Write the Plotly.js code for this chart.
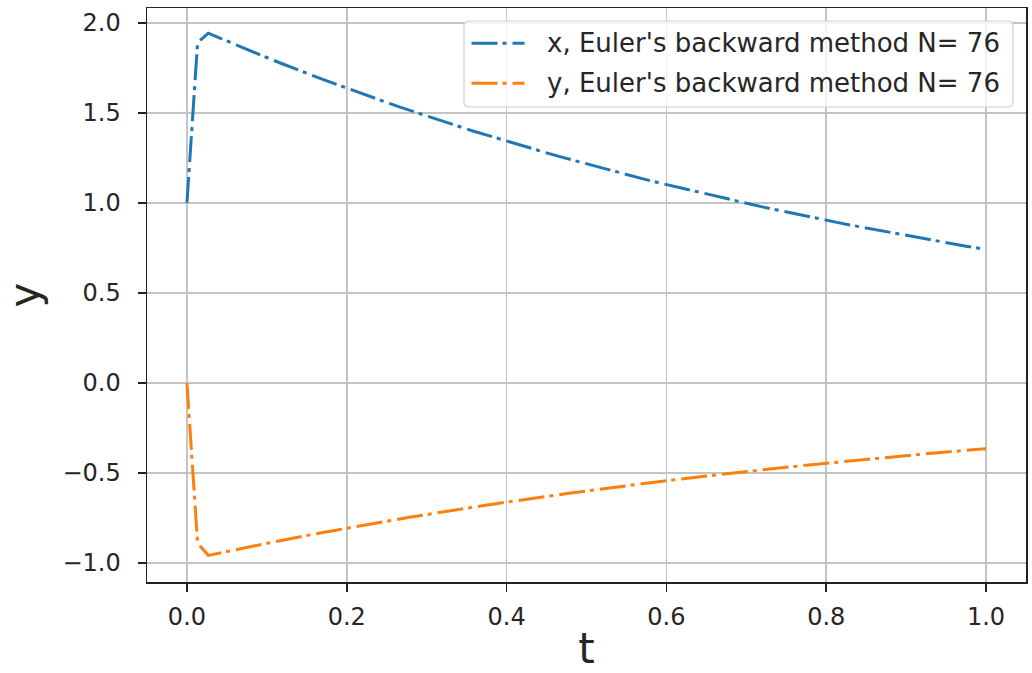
<!DOCTYPE html>
<html>
<head>
<meta charset="utf-8">
<script src="https://cdn.plot.ly/plotly-3.0.1.min.js"></script>
<style>html,body{margin:0;padding:0;background:#fff;}#chart{width:1032px;height:673px;}</style>
</head>
<body>
<div id="chart"></div>
<script>
var t = [0, 0.0133, 0.0267, 0.04, 0.0533, 0.0667, 0.08, 0.0933, 0.1067, 0.12, 0.1333, 0.1467, 0.16, 0.1733, 0.1867,
  0.2, 0.2133, 0.2267, 0.24, 0.2533, 0.2667, 0.28, 0.2933, 0.3067, 0.32, 0.3333, 0.3467, 0.36, 0.3733, 0.3867,
  0.4, 0.4133, 0.4267, 0.44, 0.4533, 0.4667, 0.48, 0.4933, 0.5067, 0.52, 0.5333, 0.5467, 0.56, 0.5733, 0.5867,
  0.6, 0.6133, 0.6267, 0.64, 0.6533, 0.6667, 0.68, 0.6933, 0.7067, 0.72, 0.7333, 0.7467, 0.76, 0.7733, 0.7867,
  0.8, 0.8133, 0.8267, 0.84, 0.8533, 0.8667, 0.88, 0.8933, 0.9067, 0.92, 0.9333, 0.9467, 0.96, 0.9733, 0.9867,
  1.0];
var xVals = [1.0, 1.89, 1.943, 1.918, 1.892, 1.868, 1.843, 1.819, 1.795, 1.772, 1.748, 1.725, 1.703, 1.681, 1.659,
  1.637, 1.615, 1.594, 1.573, 1.553, 1.532, 1.512, 1.492, 1.473, 1.454, 1.434, 1.416, 1.397, 1.379, 1.361,
  1.343, 1.325, 1.308, 1.291, 1.274, 1.257, 1.241, 1.224, 1.208, 1.192, 1.177, 1.161, 1.146, 1.131, 1.116,
  1.102, 1.087, 1.073, 1.059, 1.045, 1.031, 1.018, 1.005, 0.991, 0.978, 0.966, 0.953, 0.940, 0.928, 0.916,
  0.904, 0.892, 0.880, 0.869, 0.857, 0.846, 0.835, 0.824, 0.813, 0.803, 0.792, 0.782, 0.771, 0.761, 0.751,
  0.742];
var yVals = [0, -0.89, -0.958, -0.945, -0.933, -0.921, -0.909, -0.897, -0.885, -0.873, -0.862, -0.851, -0.839, -0.828, -0.818,
  -0.807, -0.796, -0.786, -0.776, -0.765, -0.755, -0.745, -0.736, -0.726, -0.717, -0.707, -0.698, -0.689, -0.680, -0.671,
  -0.662, -0.653, -0.645, -0.636, -0.628, -0.620, -0.612, -0.604, -0.596, -0.588, -0.580, -0.573, -0.565, -0.558, -0.550,
  -0.543, -0.536, -0.529, -0.522, -0.515, -0.508, -0.502, -0.495, -0.489, -0.482, -0.476, -0.470, -0.464, -0.458, -0.451,
  -0.446, -0.440, -0.434, -0.428, -0.423, -0.417, -0.412, -0.406, -0.401, -0.396, -0.390, -0.385, -0.380, -0.375, -0.370,
  -0.366];
var seriesNames = ["x, Euler's backward method N= 76", "y, Euler's backward method N= 76"];
var seriesColors = ["#1f77b4", "#ff7f0e"];

var dashStyle = "26px,5px,4px,6px";
var traces = [
  {x: t, y: xVals, name: seriesNames[0], type: 'scatter', mode: 'lines', showlegend: false,
   line: {color: seriesColors[0], width: 3, dash: dashStyle}},
  {x: t, y: yVals, name: seriesNames[1], type: 'scatter', mode: 'lines', showlegend: false,
   line: {color: seriesColors[1], width: 3, dash: dashStyle}}
];

// plot area in pixels (for placing the legend box in paper units)
var PL = 147, PR = 1026, PT = 8, PB = 582;
function px(x) { return (x - PL) / (PR - PL); }
function py(y) { return (PB - y) / (PB - PT); }
function pt(x, y) { return px(x).toFixed(5) + ',' + py(y).toFixed(5); }

// legend box (rounded, semi-transparent like matplotlib)
var bx0 = 464, bx1 = 1013, by0 = 21, by1 = 107, rr = 5;
var boxPath = 'M' + pt(bx0 + rr, by0) + ' L' + pt(bx1 - rr, by0) + ' Q' + pt(bx1, by0) + ' ' + pt(bx1, by0 + rr) +
  ' L' + pt(bx1, by1 - rr) + ' Q' + pt(bx1, by1) + ' ' + pt(bx1 - rr, by1) +
  ' L' + pt(bx0 + rr, by1) + ' Q' + pt(bx0, by1) + ' ' + pt(bx0, by1 - rr) +
  ' L' + pt(bx0, by0 + rr) + ' Q' + pt(bx0, by0) + ' ' + pt(bx0 + rr, by0) + ' Z';
var rowY = [43.3, 83.3];
var shapes = [{type: 'path', xref: 'paper', yref: 'paper', path: boxPath, layer: 'above',
  fillcolor: 'rgba(255,255,255,0.8)', line: {color: '#d0d0d0', width: 1.2}}];
var annotations = [];
var font = "DejaVu Sans, sans-serif";
for (var i = 0; i < seriesNames.length; i++) {
  shapes.push({type: 'line', xref: 'paper', yref: 'paper', layer: 'above',
    x0: px(471.5), x1: px(524.5), y0: py(rowY[i]), y1: py(rowY[i]),
    line: {color: seriesColors[i], width: 3, dash: dashStyle}});
  annotations.push({xref: 'paper', yref: 'paper', x: px(545), y: py(rowY[i]), xanchor: 'left', yanchor: 'middle',
    showarrow: false, text: seriesNames[i], font: {family: font, size: 26, color: '#262626'}});
}

var layout = {
  width: 1032, height: 673,
  margin: {l: PL, r: 1032 - PR, t: PT, b: 673 - PB, pad: 0},
  paper_bgcolor: '#ffffff', plot_bgcolor: '#ffffff',
  font: {family: font, size: 24, color: '#262626'},
  showlegend: false,
  shapes: shapes,
  annotations: annotations,
  xaxis: {
    range: [-0.05, 1.05], tickmode: 'linear', tick0: 0, dtick: 0.2, tickformat: '.1f',
    showgrid: true, gridcolor: '#c4c4c4', gridwidth: 1.5, zeroline: false,
    showline: true, mirror: true, linecolor: '#222', linewidth: 1.5,
    ticks: 'outside', ticklen: 8, tickwidth: 1.5, tickcolor: '#222',
    tickfont: {family: font, size: 24, color: '#262626'},
    ticklabelstandoff: 5,
    title: {text: 't', font: {family: font, size: 42, color: '#262626'}, standoff: 9}
  },
  yaxis: {
    range: [-1.106, 2.083], tickmode: 'linear', tick0: 0, dtick: 0.5, tickformat: '.1f',
    showgrid: true, gridcolor: '#c4c4c4', gridwidth: 1.5, zeroline: false,
    showline: true, mirror: true, linecolor: '#222', linewidth: 1.5,
    ticks: 'outside', ticklen: 8, tickwidth: 1.5, tickcolor: '#222',
    tickfont: {family: font, size: 24, color: '#262626'},
    ticklabelstandoff: 12,
    title: {text: 'y', font: {family: font, size: 42, color: '#262626'}, standoff: 14}
  }
};

Plotly.newPlot('chart', traces, layout, {displayModeBar: false, staticPlot: true});
</script>
</body>
</html>
